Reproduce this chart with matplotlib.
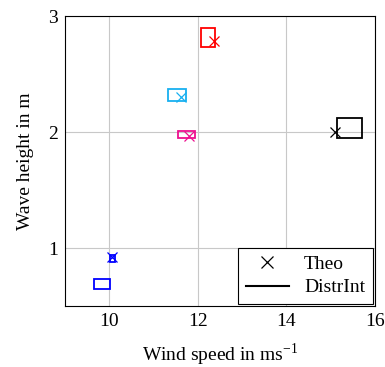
import numpy as np
import matplotlib.pyplot as plt
from matplotlib.patches import Rectangle
from matplotlib.lines import Line2D

plt.rcParams['font.family'] = ['Liberation Serif', 'DejaVu Serif']
plt.rcParams['mathtext.fontset'] = 'custom'
plt.rcParams['mathtext.rm'] = 'Liberation Serif'

# theoretical points
theo_u = [12.36, 11.62, 11.80, 10.07, 15.10]
theo_h = [2.79, 2.30, 1.97, 0.92, 2.00]
theo_colors = ['#ff0000', '#18b0f0', '#ee1090', '#0000ff', '#000000']

# DistrInt boxes (wind range, wave height range)
box_u_lo = [12.07, 11.33, 11.55, 9.66, 10.01, 15.15]
box_u_hi = [12.38, 11.73, 11.93, 10.02, 10.13, 15.71]
box_h_lo = [2.73, 2.27, 1.95, 0.65, 0.88, 1.95]
box_h_hi = [2.90, 2.37, 2.01, 0.73, 0.94, 2.12]
box_colors = ['#ff0000', '#18b0f0', '#ee1090', '#0000ff', '#0000ff', '#000000']

fig = plt.figure(figsize=(3.85, 3.67), dpi=100)
ax = fig.add_axes([0.169, 0.166, 0.805, 0.790])

for ul, uh, hl, hh, c in zip(box_u_lo, box_u_hi, box_h_lo, box_h_hi, box_colors):
    ax.add_patch(Rectangle((ul, hl), uh - ul, hh - hl, fill=False,
                           edgecolor=c, linewidth=1.3, zorder=3))

for u, h, c in zip(theo_u, theo_h, theo_colors):
    ax.plot(u, h, 'x', color=c, markersize=7, markeredgewidth=0.9, zorder=4)

ax.set_xlim(9, 16)
ax.set_ylim(0.5, 3)
ax.set_xticks([10, 12, 14, 16])
ax.set_yticks([1, 2, 3])
ax.grid(True, color='#c8c8c8', linewidth=0.8)
ax.set_axisbelow(True)
ax.tick_params(direction='in', length=0, labelsize=14, pad=5)
for s in ax.spines.values():
    s.set_linewidth(0.8)

ax.set_xlabel('Wind speed in ms$^{\\mathregular{-1}}$', fontsize=14, labelpad=8)
ax.set_ylabel('Wave height in m', fontsize=14, labelpad=10)

handles = [Line2D([], [], color='black', marker='x', linestyle='none', markersize=8, markeredgewidth=0.9),
           Line2D([], [], color='black', linewidth=1.5)]
leg = ax.legend(handles, ['Theo', 'DistrInt'], loc='lower right', fontsize=14,
                fancybox=False, framealpha=1, edgecolor='black', borderaxespad=0.1,
                handlelength=2.2, labelspacing=0.3, borderpad=0.4)
leg.get_frame().set_linewidth(0.8)

fig.savefig('out.png', dpi=100)
